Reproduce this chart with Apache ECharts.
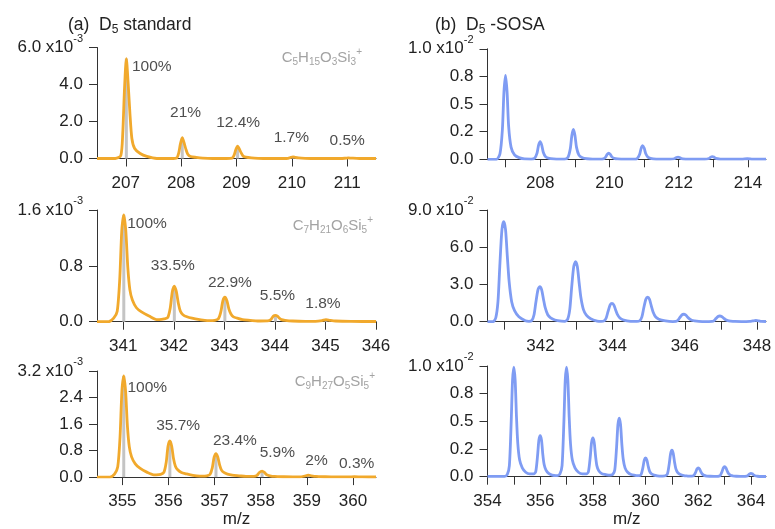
<!DOCTYPE html>
<html><head><meta charset="utf-8">
<script src="https://cdn.jsdelivr.net/npm/echarts@6/dist/echarts.min.js"></script>
<style>html,body{margin:0;padding:0;background:#fff}#c{width:775px;height:529px}</style>
</head><body><div id="c"></div>
<script>
// ---------------- DATA ----------------
// (a) D5 standard — spectra (m/z, signal x10^-3)
const specA1 = [[206.48,0],[206.81,0],[206.91,0.16],[206.945,1.35],[206.977,3.78],[207.01,5.4],[207.043,4.05],[207.075,2.43],[207.11,1.08],[207.16,0.54],[207.26,0.27],[207.38,0.11],[207.56,0],
[207.82,0],[207.92,0.03],[207.955,0.28],[207.987,0.79],[208.02,1.13],[208.053,0.85],[208.085,0.51],[208.12,0.23],[208.17,0.11],[208.27,0.06],[208.39,0.02],[208.57,0],
[208.82,0],[208.92,0.02],[208.955,0.17],[208.987,0.47],[209.02,0.67],[209.053,0.5],[209.085,0.3],[209.12,0.13],[209.17,0.07],[209.27,0.03],[209.39,0.01],[209.57,0],
[209.85,0],[209.93,0.01],[209.98,0.06],[210.02,0.09],[210.06,0.06],[210.12,0.03],[210.24,0.01],[210.45,0],
[210.88,0],[210.98,0.02],[211.02,0.03],[211.07,0.02],[211.22,0],[211.52,0]];
const specA2 = [[340.48,0],[340.71,0],[340.81,0.05],[340.88,0.15],[340.93,0.61],[340.97,1.30],[341.01,1.53],[341.05,1.30],[341.09,0.77],[341.13,0.46],[341.18,0.31],[341.26,0.2],[341.36,0.14],[341.51,0.08],[341.66,0.03],
[341.71,0.03],[341.81,0.04],[341.88,0.06],[341.93,0.2],[341.97,0.43],[342.01,0.51],[342.05,0.43],[342.09,0.26],[342.13,0.15],[342.18,0.1],[342.26,0.07],[342.36,0.05],[342.51,0.03],[342.66,0.015],
[342.71,0.015],[342.81,0.02],[342.88,0.04],[342.93,0.14],[342.97,0.3],[343.01,0.35],[343.05,0.3],[343.09,0.18],[343.13,0.11],[343.18,0.07],[343.26,0.05],[343.36,0.03],[343.51,0.02],[343.66,0.01],
[343.71,0.01],[343.88,0.015],[343.93,0.04],[343.97,0.08],[344.01,0.09],[344.05,0.08],[344.09,0.05],[344.13,0.03],[344.2,0.02],[344.35,0.01],[344.6,0.005],
[344.8,0.005],[344.93,0.015],[345.01,0.03],[345.09,0.02],[345.2,0.01],[345.5,0.004],[346,0.003]];
const specA3 = [[354.45,0],[354.73,0],[354.83,0.09],[354.9,0.31],[354.95,1.22],[354.99,2.59],[355.03,3.05],[355.07,2.59],[355.11,1.53],[355.15,0.92],[355.2,0.61],[355.28,0.4],[355.38,0.27],[355.53,0.15],[355.68,0.07],
[355.73,0.07],[355.83,0.08],[355.9,0.14],[355.95,0.44],[355.99,0.93],[356.03,1.09],[356.07,0.93],[356.11,0.55],[356.15,0.33],[356.2,0.22],[356.28,0.14],[356.38,0.1],[356.53,0.05],[356.68,0.03],
[356.73,0.03],[356.83,0.04],[356.9,0.08],[356.95,0.28],[356.99,0.6],[357.03,0.71],[357.07,0.6],[357.11,0.36],[357.15,0.21],[357.2,0.14],[357.28,0.09],[357.38,0.06],[357.53,0.04],[357.68,0.02],
[357.73,0.02],[357.85,0.02],[357.92,0.05],[357.97,0.14],[358.03,0.18],[358.08,0.14],[358.13,0.07],[358.2,0.04],[358.3,0.02],[358.5,0.01],[358.7,0.005],
[358.85,0.005],[358.95,0.03],[359.03,0.06],[359.1,0.04],[359.2,0.02],[359.4,0.01],[359.6,0.004],
[359.9,0.004],[360.03,0.01],[360.2,0.004],[360.5,0.003]];
const stickMzA1 = [207.01, 208.02, 209.02, 210.02, 211.02];
const stickIntA1 = [5.4, 1.13, 0.67, 0.09, 0.03];
const stickMzA2 = [341.01, 342.01, 343.01, 344.01, 345.01];
const stickIntA2 = [1.53, 0.51, 0.35, 0.09, 0.03];
const stickMzA3 = [355.03, 356.03, 357.03, 358.03, 359.03, 360.03];
const stickIntA3 = [3.05, 1.09, 0.71, 0.18, 0.06, 0.01];
const pctA1 = ['100%', '21%', '12.4%', '1.7%', '0.5%'];
const pctA2 = ['100%', '33.5%', '22.9%', '5.5%', '1.8%'];
const pctA3 = ['100%', '35.7%', '23.4%', '5.9%', '2%', '0.3%'];

// (b) D5-SOSA — spectra
const specB1 = [[206.48,0],[206.74,0],[206.84,0.05],[206.91,0.27],[206.955,0.61],[207.0,0.76],[207.045,0.61],[207.09,0.3],[207.16,0.11],[207.26,0.04],[207.39,0.015],[207.55,0.003],
[207.74,0.002],[207.84,0.01],[207.91,0.056],[207.955,0.128],[208.0,0.16],[208.045,0.128],[208.09,0.064],[208.16,0.022],[208.26,0.008],[208.39,0.003],[208.55,0.001],
[208.7,0.001],[208.8,0.016],[208.87,0.095],[208.915,0.216],[208.96,0.27],[209.005,0.216],[209.05,0.108],[209.12,0.038],[209.22,0.014],[209.35,0.005],[209.51,0.001],
[209.72,0.001],[209.82,0.003],[209.89,0.019],[209.935,0.044],[209.98,0.055],[210.025,0.044],[210.07,0.022],[210.14,0.008],[210.24,0.003],[210.45,0.001],
[210.7,0.001],[210.8,0.007],[210.87,0.043],[210.915,0.099],[210.96,0.124],[211.005,0.099],[211.05,0.05],[211.12,0.017],[211.22,0.006],[211.35,0.002],[211.5,0.001],
[211.75,0.001],[211.87,0.005],[211.935,0.016],[211.98,0.02],[212.025,0.016],[212.08,0.006],[212.2,0.002],[212.35,0.001],
[212.75,0.001],[212.87,0.007],[212.925,0.02],[212.97,0.025],[213.015,0.02],[213.07,0.008],[213.2,0.002],[213.35,0.001],
[213.82,0.001],[213.98,0.005],[214.14,0.001],[214.52,0.001]];
const specB2 = [[340.53,0],[340.68,0],[340.76,0.32],[340.82,1.61],[340.87,4.43],[340.93,7.42],[340.98,8.06],[341.03,7.42],[341.08,5.24],[341.13,3.22],[341.2,1.61],[341.28,0.89],[341.4,0.4],[341.58,0.08],
[341.68,0.03],[341.76,0.11],[341.82,0.56],[341.87,1.55],[341.93,2.59],[341.98,2.82],[342.03,2.59],[342.08,1.83],[342.13,1.13],[342.2,0.56],[342.28,0.31],[342.4,0.14],[342.58,0.04],
[342.67,0.03],[342.75,0.19],[342.81,0.97],[342.86,2.66],[342.92,4.44],[342.97,4.83],[343.02,4.44],[343.07,3.14],[343.12,1.93],[343.19,0.97],[343.27,0.53],[343.39,0.24],[343.57,0.05],
[343.68,0.02],[343.76,0.06],[343.82,0.3],[343.87,0.81],[343.93,1.36],[343.98,1.48],[344.03,1.36],[344.08,0.96],[344.13,0.59],[344.2,0.3],[344.28,0.16],[344.4,0.07],[344.58,0.02],
[344.67,0.02],[344.75,0.08],[344.81,0.39],[344.86,1.08],[344.92,1.81],[344.97,1.97],[345.02,1.81],[345.07,1.28],[345.12,0.79],[345.19,0.39],[345.27,0.22],[345.39,0.1],[345.57,0.02],
[345.67,0.01],[345.75,0.02],[345.81,0.12],[345.86,0.33],[345.92,0.55],[345.97,0.6],[346.02,0.55],[346.07,0.39],[346.12,0.24],[346.19,0.12],[346.27,0.07],[346.39,0.03],[346.57,0.01],
[346.67,0.01],[346.75,0.02],[346.81,0.09],[346.86,0.25],[346.92,0.42],[346.97,0.46],[347.02,0.42],[347.07,0.3],[347.12,0.18],[347.19,0.09],[347.27,0.05],[347.39,0.02],[347.57,0.01],
[347.7,0.01],[347.8,0.02],[347.88,0.06],[347.97,0.1],[348.05,0.07],[348.12,0.03],[348.25,0.015]];
const specB3 = [[354,0.003],[354.65,0.003],[354.75,0.02],[354.83,0.1],[354.9,0.5],[354.95,0.87],[355,0.99],[355.05,0.87],[355.1,0.54],[355.15,0.3],[355.22,0.15],[355.32,0.08],[355.45,0.04],[355.6,0.025],
[355.65,0.025],[355.75,0.025],[355.83,0.045],[355.9,0.19],[355.95,0.33],[356,0.37],[356.05,0.33],[356.1,0.2],[356.15,0.11],[356.22,0.06],[356.32,0.03],[356.45,0.015],[356.6,0.01],
[356.65,0.01],[356.75,0.025],[356.83,0.1],[356.9,0.5],[356.95,0.87],[357,0.99],[357.05,0.87],[357.1,0.54],[357.15,0.3],[357.22,0.15],[357.32,0.08],[357.45,0.04],[357.6,0.025],
[357.65,0.025],[357.75,0.025],[357.83,0.045],[357.9,0.18],[357.95,0.31],[358,0.35],[358.05,0.31],[358.1,0.19],[358.15,0.1],[358.22,0.055],[358.32,0.03],[358.45,0.02],[358.6,0.015],
[358.65,0.015],[358.75,0.02],[358.83,0.06],[358.9,0.27],[358.95,0.47],[359,0.53],[359.05,0.47],[359.1,0.29],[359.15,0.16],[359.22,0.08],[359.32,0.04],[359.45,0.02],[359.6,0.012],
[359.65,0.01],[359.75,0.01],[359.83,0.02],[359.9,0.085],[359.95,0.15],[360,0.17],[360.05,0.15],[360.1,0.094],[360.15,0.05],[360.22,0.026],[360.32,0.014],[360.45,0.008],[360.6,0.006],
[360.65,0.006],[360.75,0.008],[360.83,0.025],[360.9,0.12],[360.95,0.21],[361,0.24],[361.05,0.21],[361.1,0.13],[361.15,0.07],[361.22,0.036],[361.32,0.019],[361.45,0.01],[361.6,0.006],
[361.65,0.005],[361.75,0.005],[361.83,0.01],[361.9,0.04],[361.95,0.07],[362,0.08],[362.05,0.07],[362.1,0.044],[362.15,0.024],[362.22,0.012],[362.32,0.006],[362.45,0.004],[362.6,0.003],
[362.65,0.003],[362.75,0.004],[362.83,0.01],[362.9,0.045],[362.95,0.079],[363,0.09],[363.05,0.079],[363.1,0.05],[363.15,0.027],[363.22,0.014],[363.32,0.007],[363.45,0.004],[363.6,0.003],
[363.7,0.003],[363.83,0.005],[363.9,0.015],[363.95,0.026],[364,0.03],[364.05,0.026],[364.1,0.016],[364.15,0.009],[364.25,0.004],[364.4,0.002],[364.57,0.002]];

// axis tick values and labels
const xTicksA1 = [207, 208, 209, 210, 211];
const xTicksA2 = [341, 342, 343, 344, 345, 346];
const xTicksA3 = [355, 356, 357, 358, 359, 360];
const xTicksB1 = [207, 208, 209, 210, 211, 212, 213, 214];
const xLabelsB1 = [208, 210, 212, 214];
const xTicksB2 = [341, 342, 343, 344, 345, 346, 347, 348];
const xLabelsB2 = [342, 344, 346, 348];
const xTicksB3 = [354, 355, 356, 357, 358, 359, 360, 361, 362, 363, 364];
const xLabelsB3 = [354, 356, 358, 360, 362, 364];
const yLabelsA1 = ['0.0', '2.0', '4.0', '6.0'];
const yLabelsA2 = ['0.0', '0.8', '1.6'];
const yLabelsA3 = ['0.0', '0.8', '1.6', '2.4', '3.2'];
const yLabelsB1 = ['0.0', '0.2', '0.5', '0.8', '1.0'];
const yLabelsB2 = ['0.0', '3.0', '6.0', '9.0'];
const yLabelsB3 = ['0.0', '0.2', '0.5', '0.8', '1.0'];

// ---------------- LAYOUT / STYLE ----------------
const FONT = '"Liberation Sans", Arial, Helvetica, sans-serif';
const TXT = '#222';
const ORANGE = '#F1A92C';
const BLUE = '#7F9CF3';
const STICK = '#C4C4C4';
const AX = '#333';
const FS = 17;

const panels = [
  {grid:{left:97, top:47.5, width:279, height:111}, x:[206.48,211.52], xt:xTicksA1, xl:xTicksA1, y:[0,6,2], yl:yLabelsA1, exp:'-3', spec:specA1, color:ORANGE, st:[stickMzA1,stickIntA1], pct:pctA1,
   pctPos:[[207.47,4.95],[208.08,2.46],[209.03,1.92],[209.99,1.14],[211.0,0.94]]},
  {grid:{left:97, top:210, width:279, height:111.7}, x:[340.48,346.0], xt:xTicksA2, xl:xTicksA2, y:[0,1.6,0.8], yl:yLabelsA2, exp:'-3', spec:specA2, color:ORANGE, st:[stickMzA2,stickIntA2], pct:pctA2,
   pctPos:[[341.47,1.41],[341.98,0.80],[343.11,0.56],[344.05,0.37],[344.95,0.26]]},
  {grid:{left:97, top:371, width:279, height:110.7}, x:[354.45,360.5], xt:xTicksA3, xl:xTicksA3, y:[0,3.2,0.8], yl:yLabelsA3, exp:'-3', spec:specA3, color:ORANGE, st:[stickMzA3,stickIntA3], pct:pctA3,
   pctPos:[[355.54,2.70],[356.21,1.54],[357.44,1.11],[358.36,0.74],[359.21,0.48],[360.08,0.39]], name:'m/z', nameGap:29},
  {grid:{left:487.5, top:48.8, width:278.5, height:110.5}, x:[206.48,214.52], xt:xTicksB1, xl:xLabelsB1, y:[0,1,0.25], yl:yLabelsB1, exp:'-2', spec:specB1, color:BLUE},
  {grid:{left:487.5, top:210, width:278.5, height:111.7}, x:[340.53,348.25], xt:xTicksB2, xl:xLabelsB2, y:[0,9,3], yl:yLabelsB2, exp:'-2', spec:specB2, color:BLUE},
  {grid:{left:487.5, top:366, width:278.5, height:110.7}, x:[354.0,364.57], xt:xTicksB3, xl:xLabelsB3, y:[0,1,0.25], yl:yLabelsB3, exp:'-2', spec:specB3, color:BLUE, name:'m/z', nameGap:33}
];

const grids = [], xAxes = [], yAxes = [], series = [];
panels.forEach((p, i) => {
  grids.push(p.grid);
  xAxes.push({
    type:'value', gridIndex:i, min:p.x[0], max:p.x[1],
    axisLine:{lineStyle:{color:AX, width:1}},
    axisTick:{show:true, length:8, customValues:p.xt, lineStyle:{color:AX}},
    axisLabel:{show:true, customValues:p.xl, margin:16, fontSize:FS, fontFamily:FONT, color:TXT},
    splitLine:{show:false},
    name:p.name || '', nameLocation:'middle', nameGap:p.nameGap || 30,
    nameTextStyle:{fontSize:FS, fontFamily:FONT, color:TXT}
  });
  const yl = p.yl, exp = p.exp;
  yAxes.push({
    type:'value', gridIndex:i, min:p.y[0], max:p.y[1], interval:p.y[2],
    axisLine:{show:true, lineStyle:{color:AX, width:1}},
    axisTick:{show:true, length:8, lineStyle:{color:AX}},
    axisLabel:{margin:14, fontSize:FS, fontFamily:FONT, color:TXT,
      formatter:(v, idx) => {
        const k = Math.round((v - p.y[0]) / p.y[2]);
        const s = yl[k] !== undefined ? yl[k] : '';
        return k === yl.length - 1 ? '{n|' + s + ' x10}{e|' + exp + '}' : '{n|' + s + '}';
      },
      rich:{n:{fontSize:FS, fontFamily:FONT, color:TXT}, e:{fontSize:11, fontFamily:FONT, color:TXT, padding:[0,0,18,0]}}
    },
    splitLine:{show:false}
  });
  if (p.st) {
    series.push({type:'bar', xAxisIndex:i, yAxisIndex:i, barWidth:3, itemStyle:{color:STICK}, z:1,
      data:p.st[0].map((m, k) => [m, p.st[1][k]]), animation:false, silent:true});
  }
  series.push({type:'line', xAxisIndex:i, yAxisIndex:i, data:p.spec, showSymbol:false, smooth:0.25,
    lineStyle:{color:p.color, width:2.8}, itemStyle:{color:p.color}, z:3, animation:false, silent:true});
  if (p.pct) {
    series.push({type:'scatter', xAxisIndex:i, yAxisIndex:i, symbolSize:0, z:4, animation:false, silent:true,
      data:p.pct.map((t, k) => ({name:t, value:p.pctPos[k]})),
      label:{show:true, position:'inside', formatter:'{b}', fontSize:15.5, fontFamily:FONT, color:TXT}});
  }
});

const titleRich = {
  t:{fontSize:17.5, fontFamily:FONT, fontWeight:'normal', color:TXT},
  s:{fontSize:12, fontFamily:FONT, fontWeight:'normal', color:TXT, padding:[9,0,0,0]}
};
const fRich = {
  m:{fontSize:15, fontFamily:FONT, fontWeight:'normal', color:'#A3A3A3'},
  b:{fontSize:10, fontFamily:FONT, fontWeight:'normal', color:'#A3A3A3', padding:[8,0,0,0]},
  p:{fontSize:10, fontFamily:FONT, fontWeight:'normal', color:'#A3A3A3', padding:[0,0,12,0]}
};
const tStyle = r => ({fontWeight:'normal', fontFamily:FONT, rich:r});
const titles = [
  {text:'{t|(a)  D}{s|5}{t| standard}', left:68, top:15, padding:0, textStyle:tStyle(titleRich)},
  {text:'{t|(b)  D}{s|5}{t| -SOSA}', left:435, top:15, padding:0, textStyle:tStyle(titleRich)},
  {text:'{m|C}{b|5}{m|H}{b|15}{m|O}{b|3}{m|Si}{b|3}{p|+}', right:413, top:47, padding:0, textStyle:tStyle(fRich)},
  {text:'{m|C}{b|7}{m|H}{b|21}{m|O}{b|6}{m|Si}{b|5}{p|+}', right:402, top:215, padding:0, textStyle:tStyle(fRich)},
  {text:'{m|C}{b|9}{m|H}{b|27}{m|O}{b|5}{m|Si}{b|5}{p|+}', right:400, top:371, padding:0, textStyle:tStyle(fRich)}
];

const chart = echarts.init(document.getElementById('c'), null, {renderer:'canvas'});
chart.setOption({
  backgroundColor:'#fff',
  animation:false,
  title:titles,
  grid:grids, xAxis:xAxes, yAxis:yAxes, series:series
});
</script>
</body></html>
